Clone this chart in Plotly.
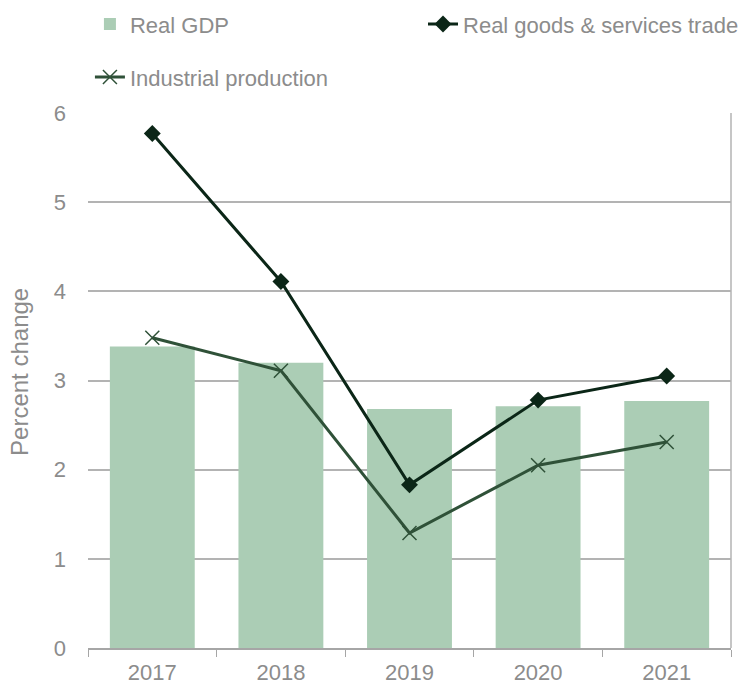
import plotly.graph_objects as go

years = ["2017", "2018", "2019", "2020", "2021"]
real_gdp = [3.38, 3.20, 2.68, 2.71, 2.77]
trade = [5.77, 4.11, 1.83, 2.78, 3.05]
industrial = [3.48, 3.11, 1.29, 2.05, 2.31]
y_ticks = [0, 1, 2, 3, 4, 5, 6]

GRAY = "#8c8c8c"
FONT = "Liberation Sans, Arial, sans-serif"

fig = go.Figure()
fig.add_trace(go.Bar(
    x=years, y=real_gdp, name="Real GDP",
    marker=dict(color="#abcdb5", line=dict(width=0)),
    legend="legend",
))
fig.add_trace(go.Scatter(
    x=years, y=trade, name="Real goods & services trade",
    mode="lines+markers",
    line=dict(color="#0b2617", width=3),
    marker=dict(symbol="diamond", size=13, color="#0b2617"),
    legend="legend2",
))
fig.add_trace(go.Scatter(
    x=years, y=industrial, name="Industrial production",
    mode="lines+markers",
    line=dict(color="#2f5138", width=3),
    marker=dict(symbol="x-thin", size=14, line=dict(color="#2f5138", width=1.5)),
    legend="legend3",
))

leg_common = dict(orientation="h", xanchor="left", yanchor="middle",
                  font=dict(size=22, color=GRAY, family=FONT),
                  itemwidth=30, bgcolor="rgba(0,0,0,0)")

fig.update_layout(
    width=742, height=687,
    margin=dict(l=88, r=11, t=113, b=39, autoexpand=False),
    plot_bgcolor="white", paper_bgcolor="white",
    font=dict(family=FONT, color=GRAY, size=20),
    bargap=0.34,
    legend=dict(x=0.003, y=1.166, **leg_common),
    legend2=dict(x=0.521, y=1.166, **leg_common),
    legend3=dict(x=0.003, y=1.067, **leg_common),
    showlegend=True,
)

fig.update_xaxes(
    showline=True, linecolor="#a6a6a6", linewidth=1.5,
    ticks="outside", tickson="boundaries", ticklen=7, tickcolor="#a6a6a6",
    tickfont=dict(size=22, color=GRAY, family=FONT),
    ticklabelstandoff=4,
    showgrid=False,
)
fig.update_yaxes(
    range=[0, 6], tickvals=y_ticks,
    showgrid=True, gridcolor="#b3b3b3", gridwidth=1.5,
    zeroline=False, showline=False,
    tickfont=dict(size=22, color=GRAY, family=FONT),
    ticklabelstandoff=21,
)

fig.add_annotation(text="Percent change", xref="paper", yref="paper",
                   x=(20 - 88) / 643, y=0.516, xanchor="center", yanchor="middle",
                   textangle=-90, showarrow=False,
                   font=dict(size=24, color=GRAY, family=FONT))

fig.add_shape(type="line", xref="paper", yref="y", x0=1, x1=1, y0=0, y1=6,
              line=dict(color="#b3b3b3", width=1.5))

fig.write_html("out.html")
